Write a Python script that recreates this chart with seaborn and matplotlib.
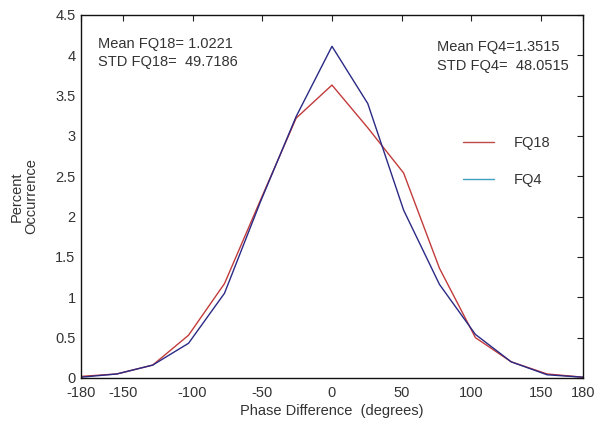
import numpy as np
import pandas as pd
import matplotlib
matplotlib.use("Agg")
import matplotlib.pyplot as plt
import seaborn as sns
from matplotlib.lines import Line2D

phase = [-180, -154.3, -128.6, -102.9, -77.1, -51.4, -25.7, 0, 25.7, 51.4, 77.1, 102.9, 128.6, 154.3, 180]
fq18 = [0.02, 0.05, 0.16, 0.53, 1.17, 2.20, 3.22, 3.63, 3.10, 2.54, 1.36, 0.50, 0.20, 0.05, 0.01]
fq4 = [0.01, 0.05, 0.16, 0.43, 1.05, 2.18, 3.24, 4.11, 3.40, 2.08, 1.16, 0.54, 0.20, 0.04, 0.01]
xticks = [-180, -150, -100, -50, 0, 50, 100, 150, 180]
yticks = [0, 0.5, 1, 1.5, 2, 2.5, 3, 3.5, 4, 4.5]
ytick_labels = ["0", "0.5", "1", "1.5", "2", "2.5", "3", "3.5", "4", "4.5"]

sns.set_theme(style="white")
plt.rcParams['font.family'] = ['Liberation Sans', 'DejaVu Sans']

df = pd.DataFrame({"phase": phase * 2,
                   "pct": fq18 + fq4,
                   "series": ["FQ18"] * len(phase) + ["FQ4"] * len(phase)})

fs = 10.5
fig = plt.figure(figsize=(5.96, 4.24), dpi=100)
ax = fig.add_axes([0.136, 0.1085, 0.842, 0.8565])
sns.lineplot(data=df, x="phase", y="pct", hue="series",
             palette={"FQ18": "#c23b3b", "FQ4": "#2a2a86"},
             linewidth=1.0, legend=False, ax=ax, sort=False)

ax.set_xlim(-180, 180)
ax.set_ylim(0, 4.5)
ax.set_xticks(xticks)
ax.set_xticklabels([str(t) for t in xticks])
ax.set_yticks(yticks)
ax.set_yticklabels(ytick_labels)
ax.tick_params(direction="in", length=4, width=0.8, top=True, right=True,
               labelsize=fs, colors="#222222")
ax.tick_params(axis="x", labelcolor="#333333", pad=6)
ax.tick_params(axis="y", labelcolor="#333333", pad=4)
for s in ax.spines.values():
    s.set_color("#111111")
    s.set_linewidth(1.0)
ax.set_xlabel("Phase Difference  (degrees)", fontsize=fs, color="#333333", labelpad=3)
ax.set_ylabel("Percent\nOccurrence", fontsize=fs, color="#333333", labelpad=12, linespacing=1.05)

ax.text(0.033, 0.920, "Mean FQ18= 1.0221", transform=ax.transAxes, fontsize=fs, color="#333333", va="center")
ax.text(0.033, 0.870, "STD FQ18=  49.7186", transform=ax.transAxes, fontsize=fs, color="#333333", va="center")
ax.text(0.71, 0.912, "Mean FQ4=1.3515", transform=ax.transAxes, fontsize=fs, color="#333333", va="center")
ax.text(0.71, 0.860, "STD FQ4=  48.0515", transform=ax.transAxes, fontsize=fs, color="#333333", va="center")

handles = [Line2D([], [], color="#c04848", lw=1.0), Line2D([], [], color="#3f9fbf", lw=1.0)]
ax.legend(handles, ["FQ18", "FQ4"], loc="center left", bbox_to_anchor=(0.761, 0.596),
          frameon=False, fontsize=fs, handlelength=2.1, handletextpad=1.4,
          labelspacing=1.6, labelcolor="#333333", borderpad=0, borderaxespad=0)

fig.savefig("out.png", dpi=100)
